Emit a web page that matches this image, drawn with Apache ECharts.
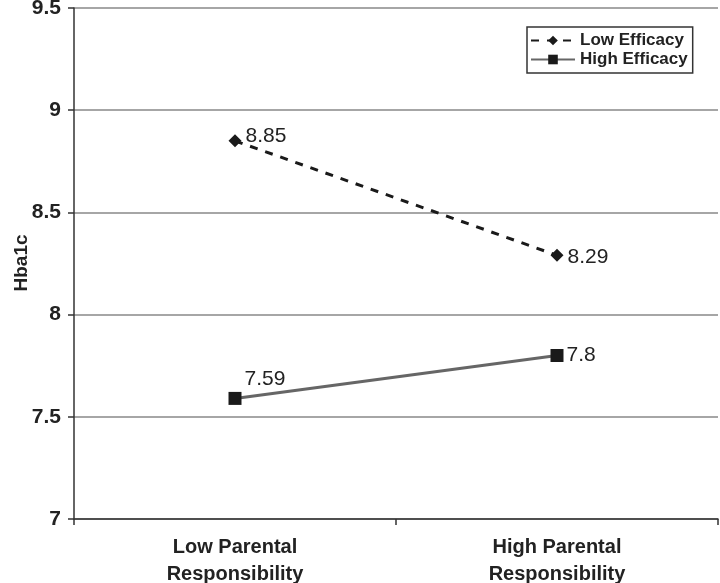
<!DOCTYPE html>
<html>
<head>
<meta charset="utf-8">
<script src="https://cdn.jsdelivr.net/npm/echarts@6/dist/echarts.min.js"></script>
<style>
  html, body { margin: 0; padding: 0; background: #fff; }
  #main { width: 720px; height: 583px; }
</style>
</head>
<body>
<div id="main"></div>
<script>
const categories = ['Low Parental\nResponsibility', 'High Parental\nResponsibility'];
const lowEfficacy = [8.85, 8.29];
const highEfficacy = [7.59, 7.8];
const yTicks = [7, 7.5, 8, 8.5, 9, 9.5];
const yTitle = 'Hba1c';

const chart = echarts.init(document.getElementById('main'));
const font = 'Liberation Sans, Arial, sans-serif';

// per-point label nudges, the source puts them a little differently
const lowOffsets = [[0, -5], [0, 2]];
const highOffsets = [[0, -19], [0, 0]];

const option = {
  animation: false,
  backgroundColor: '#fff',
  grid: { left: 74, right: 2, top: 8, bottom: 64, containLabel: false, outerBoundsMode: 'none' },
  // axis title drawn by hand, the axis name kept snapping to the edge
  graphic: [{
    type: 'text',
    x: 22,
    y: 263,
    rotation: Math.PI / 2,
    style: {
      text: yTitle,
      fontFamily: font, fontWeight: 'bold', fontSize: 19, fill: '#222',
      align: 'center', verticalAlign: 'middle',
    },
  }],
  legend: {
    orient: 'vertical',
    left: 527,
    top: 27,
    padding: [5, 5, 5, 3],
    itemGap: 2,
    itemWidth: 44,
    itemHeight: 12,
    borderColor: '#333',
    borderWidth: 1.5,
    textStyle: { fontFamily: font, fontWeight: 'bold', fontSize: 17, color: '#222' },
    data: ['Low Efficacy', 'High Efficacy'],
  },
  xAxis: {
    type: 'category',
    data: categories,
    boundaryGap: true,
    axisLine: { lineStyle: { color: '#333', width: 1.5 } },
    axisTick: { show: true, length: 6, lineStyle: { color: '#333', width: 1.5 } },
    axisLabel: {
      fontFamily: font, fontWeight: 'bold', fontSize: 20, color: '#222',
      lineHeight: 27, margin: 15,
    },
  },
  yAxis: {
    type: 'value',
    min: yTicks[0],
    max: yTicks[yTicks.length - 1],
    interval: 0.5,
    axisLine: { show: true, lineStyle: { color: '#333', width: 1.5 } },
    axisTick: { show: true, length: 6, lineStyle: { color: '#333', width: 1.5 } },
    splitLine: { lineStyle: { color: '#888', width: 1.5 } },
    axisLabel: {
      fontFamily: font, fontWeight: 'bold', fontSize: 21, color: '#222', margin: 13,
      formatter: v => String(v),
    },
  },
  series: [
    {
      name: 'Low Efficacy',
      type: 'line',
      data: lowEfficacy.map((v, i) => ({ value: v, label: { offset: lowOffsets[i] } })),
      symbol: 'diamond',
      symbolSize: 13,
      itemStyle: { color: '#1a1a1a' },
      lineStyle: { color: '#1a1a1a', width: 3, type: [8, 8] },
      label: {
        show: true, position: 'right', distance: 4,
        fontFamily: font, fontSize: 21, color: '#222',
      },
    },
    {
      name: 'High Efficacy',
      type: 'line',
      data: highEfficacy.map((v, i) => ({ value: v, label: { offset: highOffsets[i] } })),
      symbol: 'rect',
      symbolSize: 13,
      itemStyle: { color: '#1a1a1a' },
      lineStyle: { color: '#666', width: 3 },
      label: {
        show: true, position: 'right', distance: 3,
        fontFamily: font, fontSize: 21, color: '#222',
      },
    },
  ],
};

chart.setOption(option);
</script>
</body>
</html>
